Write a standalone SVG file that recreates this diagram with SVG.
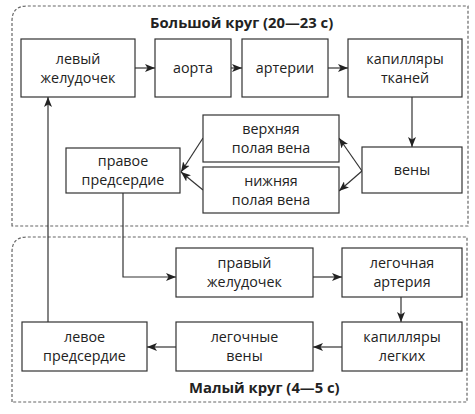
<svg xmlns="http://www.w3.org/2000/svg" width="475" height="414" viewBox="0 0 475 414">
<defs>
<style>
.b{fill:#fff;stroke:#333;stroke-width:1.2}
.t{font-family:"Open Sans","Noto Sans",sans-serif;font-size:14.3px;fill:#222;text-anchor:middle}
.h{font-family:"Open Sans","Noto Sans",sans-serif;font-size:14.8px;font-weight:bold;fill:#222}
.d{fill:none;stroke:#666;stroke-width:1.2;stroke-dasharray:3 2}
.c{fill:none;stroke:#333;stroke-width:1.2;marker-end:url(#a)}
</style>
<marker id="a" viewBox="0 0 10 8" refX="10" refY="4" markerWidth="10" markerHeight="8" markerUnits="userSpaceOnUse" orient="auto">
<path d="M0,0 L10,4 L0,8 L2.5,4 Z" fill="#222"/>
</marker>
</defs>
<rect width="475" height="414" fill="#fff"/>
<g id="frames">
<path class="d" d="M12,226 V21 Q12,6 27,6 H468 V226 Z"/>
<path class="d" d="M12,402 V252 Q12,237 27,237 H467 V402 Z"/>
<text class="h" x="150" y="28">Большой круг (20—23 с)</text>
<text class="h" x="189" y="393">Малый круг (4—5 с)</text>
</g>
<g id="connectors">
<line class="c" x1="135" y1="68" x2="155" y2="68"/>
<line class="c" x1="231" y1="68" x2="242" y2="68"/>
<line class="c" x1="328" y1="68" x2="348" y2="68"/>
<line class="c" x1="412" y1="97" x2="412" y2="147"/>
<line class="c" x1="362" y1="171" x2="339" y2="138"/>
<line class="c" x1="362" y1="171" x2="339" y2="191"/>
<line class="c" x1="203" y1="138" x2="181" y2="172"/>
<line class="c" x1="203" y1="190" x2="181" y2="172"/>
<polyline class="c" points="123,193 123,277 176,277"/>
<line class="c" x1="313" y1="277" x2="342" y2="277"/>
<line class="c" x1="401" y1="297" x2="401" y2="322"/>
<line class="c" x1="342" y1="347" x2="313" y2="347"/>
<line class="c" x1="176" y1="347" x2="147" y2="347"/>
<line class="c" x1="48" y1="322" x2="48" y2="97"/>
</g>
<g id="n1"><rect class="b" x="21" y="39" width="114" height="58"/><text class="t" x="78" y="64">левый</text><text class="t" x="78" y="83">желудочек</text></g>
<g id="n2"><rect class="b" x="155" y="39" width="76" height="58"/><text class="t" x="193" y="73">аорта</text></g>
<g id="n3"><rect class="b" x="242" y="39" width="86" height="58"/><text class="t" x="285" y="73">артерии</text></g>
<g id="n4"><rect class="b" x="348" y="39" width="114" height="58"/><text class="t" x="405" y="64">капилляры</text><text class="t" x="405" y="83">тканей</text></g>
<g id="n5"><rect class="b" x="203" y="115" width="136" height="47"/><text class="t" x="271" y="134">верхняя</text><text class="t" x="271" y="153">полая вена</text></g>
<g id="n6"><rect class="b" x="203" y="167" width="136" height="46"/><text class="t" x="271" y="186">нижняя</text><text class="t" x="271" y="205">полая вена</text></g>
<g id="n7"><rect class="b" x="362" y="147" width="100" height="46"/><text class="t" x="412" y="175">вены</text></g>
<g id="n8"><rect class="b" x="66" y="148" width="114" height="45"/><text class="t" x="123" y="166">правое</text><text class="t" x="123" y="185">предсердие</text></g>
<g id="n9"><rect class="b" x="176" y="248" width="137" height="49"/><text class="t" x="244.5" y="268">правый</text><text class="t" x="244.5" y="287">желудочек</text></g>
<g id="n10"><rect class="b" x="342" y="248" width="120" height="49"/><text class="t" x="402" y="268">легочная</text><text class="t" x="402" y="287">артерия</text></g>
<g id="n11"><rect class="b" x="22" y="322" width="125" height="49"/><text class="t" x="84.5" y="342">левое</text><text class="t" x="84.5" y="361">предсердие</text></g>
<g id="n12"><rect class="b" x="176" y="322" width="137" height="49"/><text class="t" x="244.5" y="342">легочные</text><text class="t" x="244.5" y="361">вены</text></g>
<g id="n13"><rect class="b" x="342" y="322" width="120" height="49"/><text class="t" x="402" y="342">капилляры</text><text class="t" x="402" y="361">легких</text></g>
</svg>
